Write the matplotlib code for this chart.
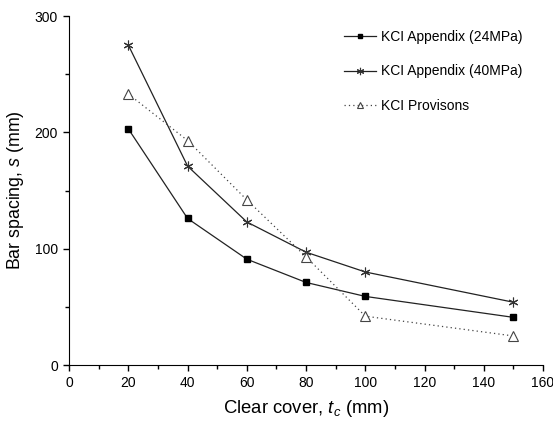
import matplotlib.pyplot as plt
from matplotlib.ticker import MultipleLocator

plt.rcParams['font.family'] = ['Liberation Sans', 'DejaVu Sans']
plt.rcParams['mathtext.fontset'] = 'custom'
plt.rcParams['mathtext.it'] = 'Liberation Sans:italic'
plt.rcParams['mathtext.rm'] = 'Liberation Sans'

cover = [20, 40, 60, 80, 100, 150]
s_24 = [203, 126, 91, 71, 59, 41]
s_40 = [275, 171, 123, 97, 80, 54]
s_prov = [233, 193, 142, 93, 42, 25]

fig = plt.figure(figsize=(5.53, 4.23), dpi=100)
ax = fig.add_axes([0.125, 0.137, 0.857, 0.825])

ax.plot(cover, s_24, color='#222222', lw=0.9, marker='s', ms=4.7,
        mfc='black', mec='black', label='KCI Appendix (24MPa)')
ax.plot(cover, s_40, color='#222222', lw=0.9, marker=(6, 2, 0), ms=7,
        mec='#333333', mew=0.8, label='KCI Appendix (40MPa)')
ax.plot(cover, s_prov, color='#444444', lw=0.9, ls=(0, (1, 2.5)), marker='^', ms=6.5,
        mfc='white', mec='#444444', mew=0.8, label='KCI Provisons')

ax.set_xlim(0, 160)
ax.set_ylim(0, 300)
ax.xaxis.set_major_locator(MultipleLocator(20))
ax.xaxis.set_minor_locator(MultipleLocator(10))
ax.yaxis.set_major_locator(MultipleLocator(100))
ax.yaxis.set_minor_locator(MultipleLocator(50))
ax.spines['top'].set_visible(False)
ax.spines['right'].set_visible(False)
ax.tick_params(which='both', direction='out', labelsize=10, width=1)
ax.tick_params(which='major', length=4.5)
ax.tick_params(which='minor', length=3)

ax.set_xlabel('Clear cover, $t_c$ (mm)', fontsize=13.3, labelpad=6)
ax.set_ylabel('Bar spacing, $s$ (mm)', fontsize=12.8, labelpad=6)

ax.legend(loc='upper right', frameon=False, fontsize=10, labelspacing=1.5,
          handlelength=2.3, handletextpad=0.4, markerscale=0.75,
          bbox_to_anchor=(0.984, 0.997))

fig.savefig('out.png', dpi=100)
